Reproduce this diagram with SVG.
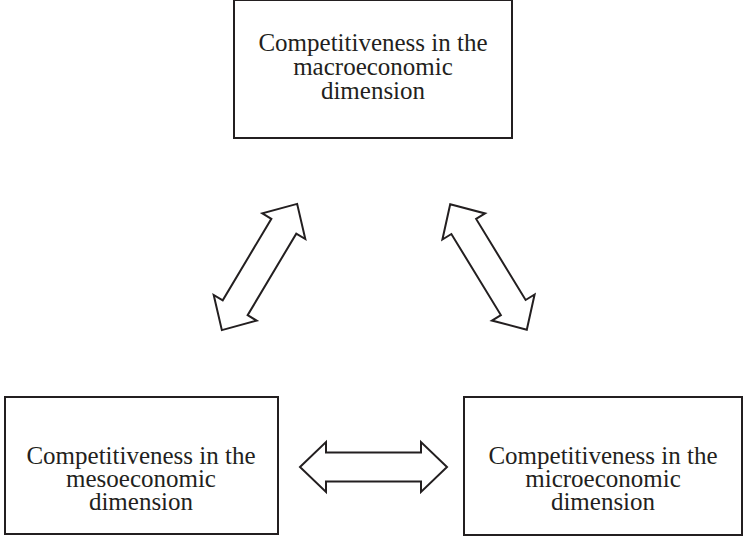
<svg xmlns="http://www.w3.org/2000/svg" xmlns:xlink="http://www.w3.org/1999/xlink" width="745" height="538" viewBox="0 0 745 538">
  <style>
    .box { fill: #ffffff; stroke: #231f20; stroke-width: 2; }
    .lbl { font-family: "Liberation Serif", "Times New Roman", serif; font-size: 25px; fill: #231f20; text-anchor: middle; }
    .arr { fill: #ffffff; stroke: #231f20; stroke-width: 2; stroke-linejoin: miter; }
  </style>
  <defs>
    <polygon id="dblArrow" class="arr" points="-73.5,0 -47.5,-25 -47.5,-14.5 47.5,-14.5 47.5,-25 73.5,0 47.5,25 47.5,14.5 -47.5,14.5 -47.5,25"/>
  </defs>
  <rect width="745" height="538" fill="#ffffff"/>
  <g id="connectors">
    <use xlink:href="#dblArrow" transform="translate(259.5,267) rotate(-59.2)"/>
    <use xlink:href="#dblArrow" transform="translate(488.5,267) rotate(58.6)"/>
    <use xlink:href="#dblArrow" transform="translate(373.5,467)"/>
  </g>
  <g id="macro">
    <rect class="box" x="234" y="0" width="278" height="138"/>
    <text class="lbl" x="373" y="51">Competitiveness in the</text>
    <text class="lbl" x="373" y="75">macroeconomic</text>
    <text class="lbl" x="373" y="99">dimension</text>
  </g>
  <g id="meso">
    <rect class="box" x="5" y="397" width="273" height="137"/>
    <text class="lbl" x="141" y="464">Competitiveness in the</text>
    <text class="lbl" x="141" y="487">mesoeconomic</text>
    <text class="lbl" x="141" y="510">dimension</text>
  </g>
  <g id="micro">
    <rect class="box" x="464" y="397" width="278" height="138"/>
    <text class="lbl" x="603" y="464">Competitiveness in the</text>
    <text class="lbl" x="603" y="487">microeconomic</text>
    <text class="lbl" x="603" y="510">dimension</text>
  </g>
</svg>
